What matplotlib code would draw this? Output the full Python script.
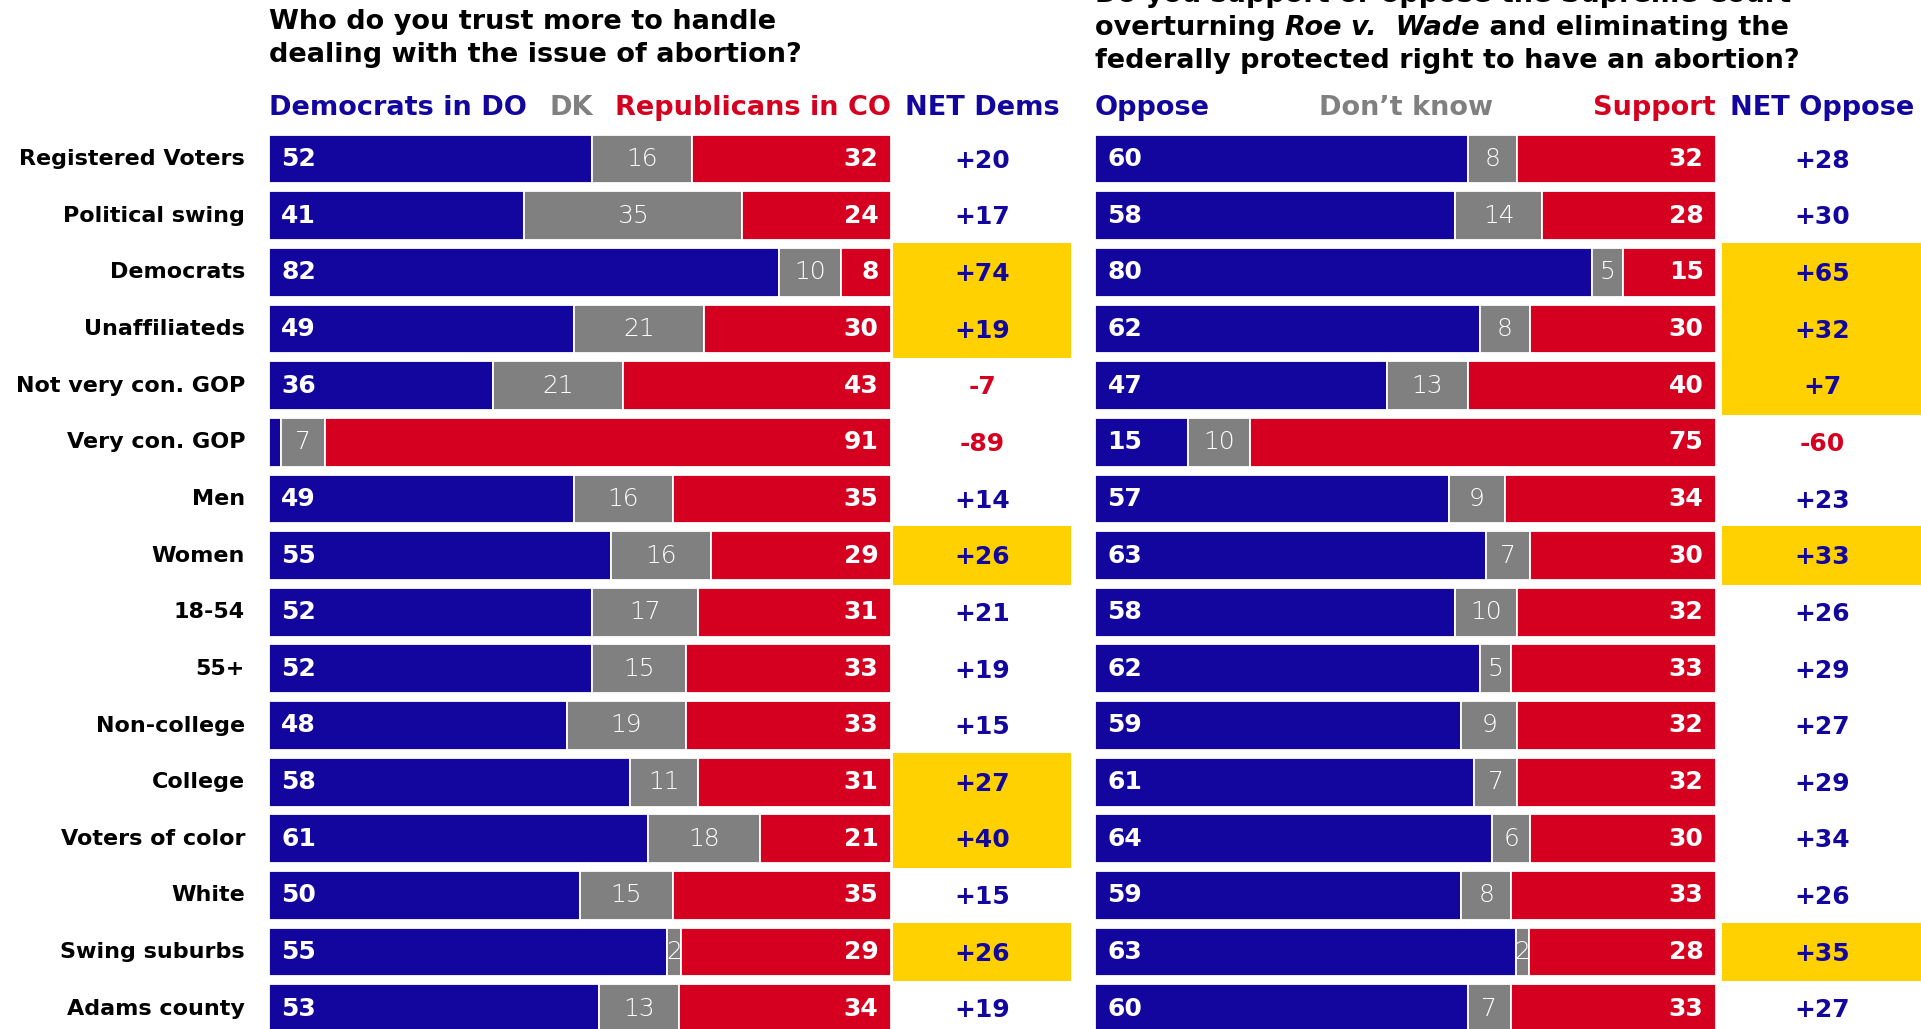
import matplotlib.pyplot as plt
import numpy as np

plt.rcParams['font.family'] = ['DejaVu Sans']

# row labels shared by both panels
groups = ["Registered Voters", "Political swing", "Democrats", "Unaffiliateds",
          "Not very con. GOP", "Very con. GOP", "Men", "Women", "18-54", "55+",
          "Non-college", "College", "Voters of color", "White", "Swing suburbs",
          "Adams county"]

# left panel: trust on abortion
trust_dem = [52, 41, 82, 49, 36, 2, 49, 55, 52, 52, 48, 58, 61, 50, 55, 53]
trust_dk = [16, 35, 10, 21, 21, 7, 16, 16, 17, 15, 19, 11, 18, 15, 2, 13]
trust_rep = [32, 24, 8, 30, 43, 91, 35, 29, 31, 33, 33, 31, 21, 35, 29, 34]
trust_hl = ["Democrats", "Unaffiliateds", "Women", "College", "Voters of color", "Swing suburbs"]

# right panel: overturning Roe v. Wade
roe_oppose = [60, 58, 80, 62, 47, 15, 57, 63, 58, 62, 59, 61, 64, 59, 63, 60]
roe_dk = [8, 14, 5, 8, 13, 10, 9, 7, 10, 5, 9, 7, 6, 8, 2, 7]
roe_support = [32, 28, 15, 30, 40, 75, 34, 30, 32, 33, 32, 32, 30, 33, 28, 33]
roe_hl = ["Democrats", "Unaffiliateds", "Not very con. GOP", "Women", "Swing suburbs"]

BLUE = "#12069e"
RED = "#d5001f"
GRAY = "#808080"
GOLD = "#ffd100"

W, H = 1921, 1029
fig = plt.figure(figsize=(W / 100, H / 100), dpi=100)

row_px = 56.65
row0_px = 159
ylim = ((H - row0_px) / row_px, -row0_px / row_px)


def panel(x0, x1, blue, gray, red, highlight, net_center, box_l, box_r):
    ax = fig.add_axes([x0 / W, 0, (x1 - x0) / W, 1])
    ax.set_xlim(0, 100)
    ax.set_ylim(*ylim)
    ax.axis("off")
    blue = np.array(blue, float)
    gray = np.array(gray, float)
    red = np.array(red, float)
    tot = blue + gray + red
    b = blue / tot * 100
    g = gray / tot * 100
    r = red / tot * 100
    y = np.arange(len(groups))
    # highlight boxes behind the net column
    for i, name in enumerate(groups):
        if name in highlight:
            ax.barh(i, box_r - box_l, left=box_l, height=1.03, color=GOLD,
                    linewidth=0, clip_on=False)
    ax.barh(y, b, height=0.86, color=BLUE, edgecolor="white", linewidth=1.3)
    ax.barh(y, g, left=b, height=0.86, color=GRAY, edgecolor="white", linewidth=1.3)
    ax.barh(y, r, left=b + g, height=0.86, color=RED, edgecolor="white", linewidth=1.3)
    for i in y:
        if blue[i] >= 5:
            ax.annotate(f"{blue[i]:.0f}", (0, i), xytext=(9, 0), textcoords="offset points",
                        ha="left", va="center", color="white", fontsize=18, fontweight="bold")
        ax.text(b[i] + g[i] / 2, i, f"{gray[i]:.0f}", ha="center", va="center",
                color="white", fontsize=18, fontweight="light")
        ax.annotate(f"{red[i]:.0f}", (100, i), xytext=(-9, 0), textcoords="offset points",
                    ha="right", va="center", color="white", fontsize=18, fontweight="bold")
        net = blue[i] - red[i]
        ax.text(net_center, i + 0.03, f"{net:+.0f}", ha="center", va="center",
                color=BLUE if net > 0 else RED, fontsize=18, fontweight="bold",
                clip_on=False)
    return ax


px_per_unit = 622.3 / 100
ax1 = panel(268.7, 891, trust_dem, trust_dk, trust_rep, trust_hl,
            (982 - 268.7) / px_per_unit, (893 - 268.7) / px_per_unit, (1071 - 268.7) / px_per_unit)
ax2 = panel(1095, 1716, roe_oppose, roe_dk, roe_support, roe_hl,
            (1822 - 1095) / 6.21, (1722 - 1095) / 6.21, (1925 - 1095) / 6.21)

# row labels
for i, name in enumerate(groups):
    ax1.annotate(name, (0, i), xytext=(-17, 0), textcoords="offset points",
                 ha="right", va="center", fontsize=16, fontweight="bold", color="black")


def fx(px):
    return px / W


def fy(px):
    return 1 - px / H


# column headers
hy = fy(108)
hk = dict(fontsize=19.5, fontweight="bold", va="center")
fig.text(fx(269), hy, "Democrats in DO", color=BLUE, ha="left", **hk)
fig.text(fx(549), hy, "DK", color=GRAY, ha="left", **hk)
fig.text(fx(891), hy, "Republicans in CO", color=RED, ha="right", **hk)
fig.text(fx(982), hy, "NET Dems", color=BLUE, ha="center", **hk)
fig.text(fx(1095), hy, "Oppose", color=BLUE, ha="left", **hk)
fig.text(fx(1406), hy, "Don\u2019t know", color=GRAY, ha="center", **hk)
fig.text(fx(1716), hy, "Support", color=RED, ha="right", **hk)
fig.text(fx(1822), hy, "NET Oppose", color=BLUE, ha="center", **hk)

# titles
tk = dict(fontsize=19.5, fontweight="bold", va="center", color="black")
fig.text(fx(269), fy(22), "Who do you trust more to handle", ha="left", **tk)
fig.text(fx(269), fy(55), "dealing with the issue of abortion?", ha="left", **tk)
fig.text(fx(1095), fy(-5), "Do you support or oppose the Supreme Court", ha="left", **tk)
fig.text(fx(1095), fy(61), "federally protected right to have an abortion?", ha="left", **tk)

# middle title line mixes upright and italic pieces
renderer = fig.canvas.get_renderer()
pieces = [("overturning ", "normal"), ("Roe v.  Wade", "italic"),
          (" and eliminating the", "normal")]
x = fx(1095)
for txt, style in pieces:
    t = fig.text(x, fy(28), txt, ha="left", fontstyle=style, **tk)
    bb = t.get_window_extent(renderer)
    x += bb.width / W

fig.savefig("out.png", dpi=100)
